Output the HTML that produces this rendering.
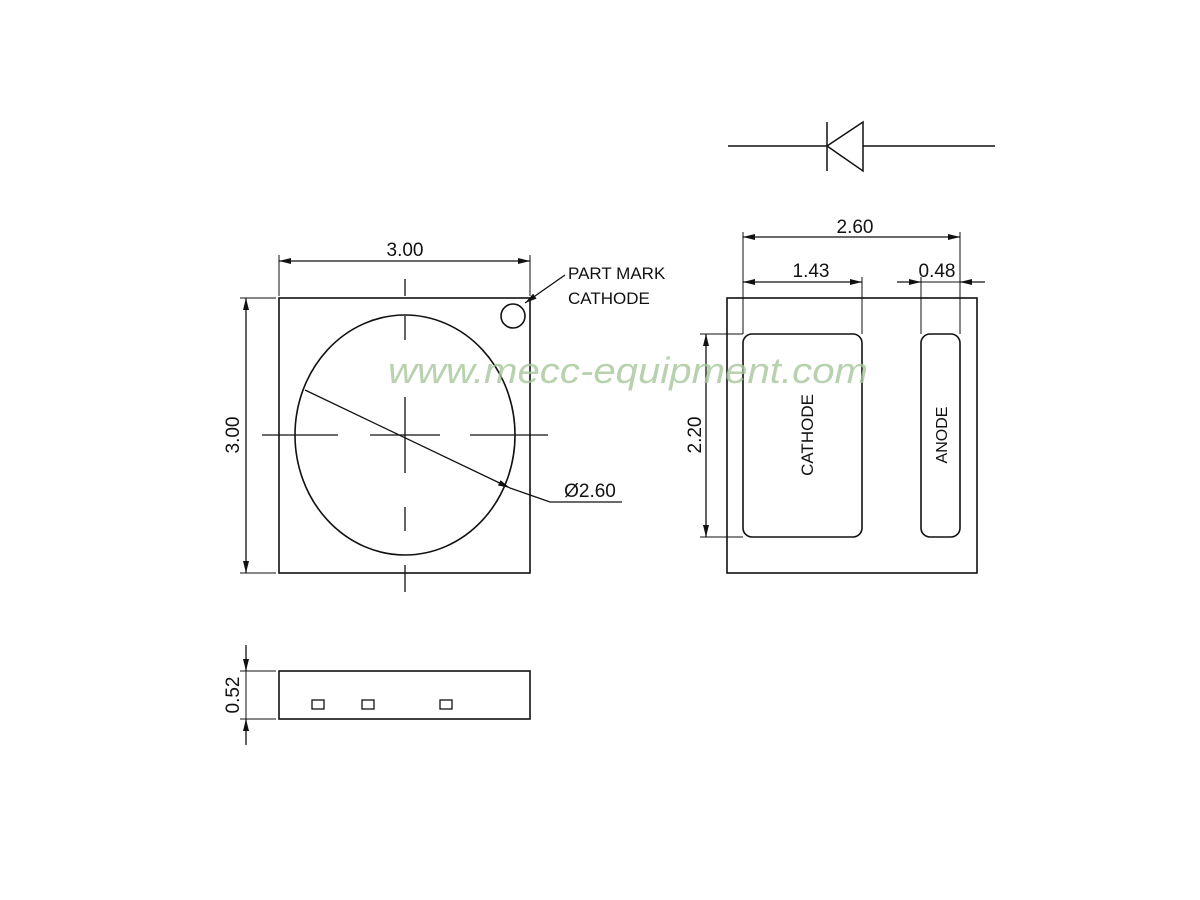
<!DOCTYPE html>
<html><head><style>html,body{margin:0;padding:0;background:#fff}svg{display:block}</style></head><body>
<svg width="1200" height="900" viewBox="0 0 1200 900" xmlns="http://www.w3.org/2000/svg" font-family="Liberation Sans, sans-serif">
<defs>
<marker id="a" viewBox="0 0 12 6" refX="12" refY="3" markerWidth="12" markerHeight="6" markerUnits="userSpaceOnUse" orient="auto-start-reverse"><path d="M0,0 L12,3 L0,6 z" fill="#111"/></marker>
</defs>
<g stroke="#111" stroke-width="1.6" fill="none">
<!-- top view -->
<rect x="279" y="298" width="251" height="275"/>
<ellipse cx="405" cy="435" rx="110" ry="120"/>
<circle cx="513" cy="316" r="12"/>
<g stroke-width="1.3">
<line x1="405" y1="279" x2="405" y2="296"/>
<line x1="405" y1="316" x2="405" y2="340"/>
<line x1="405" y1="397" x2="405" y2="473"/>
<line x1="405" y1="507" x2="405" y2="531"/>
<line x1="405" y1="565" x2="405" y2="592"/>
<line x1="262" y1="435" x2="338" y2="435"/>
<line x1="370" y1="435" x2="440" y2="435"/>
<line x1="470" y1="435" x2="548" y2="435"/>
</g>
<line x1="305" y1="390" x2="510" y2="488" stroke-width="1.3" marker-end="url(#a)"/>
<polyline points="510,488 550,502 622,502" stroke-width="1.3"/>
<line x1="565" y1="275" x2="525" y2="303" stroke-width="1.3" marker-end="url(#a)"/>
<!-- dims top view -->
<line x1="279" y1="296" x2="279" y2="255" stroke-width="1"/>
<line x1="530" y1="296" x2="530" y2="255" stroke-width="1"/>
<line x1="279" y1="261" x2="530" y2="261" stroke-width="1.3" marker-start="url(#a)" marker-end="url(#a)"/>
<line x1="240" y1="298" x2="276" y2="298" stroke-width="1"/>
<line x1="240" y1="573" x2="276" y2="573" stroke-width="1"/>
<line x1="246" y1="298" x2="246" y2="573" stroke-width="1.3" marker-start="url(#a)" marker-end="url(#a)"/>
<!-- side view -->
<rect x="279" y="671" width="251" height="48"/>
<rect x="312" y="700" width="12" height="9" stroke-width="1.3"/>
<rect x="362" y="700" width="12" height="9" stroke-width="1.3"/>
<rect x="440" y="700" width="12" height="9" stroke-width="1.3"/>
<line x1="240" y1="671" x2="276" y2="671" stroke-width="1"/>
<line x1="240" y1="719" x2="276" y2="719" stroke-width="1"/>
<line x1="246" y1="645" x2="246" y2="671" stroke-width="1.3" marker-end="url(#a)"/>
<line x1="246" y1="745" x2="246" y2="719" stroke-width="1.3" marker-end="url(#a)"/>
<line x1="246" y1="671" x2="246" y2="719" stroke-width="1"/>
<!-- bottom view -->
<rect x="727" y="298" width="250" height="275"/>
<rect x="743" y="334" width="119" height="203" rx="9"/>
<rect x="921" y="334" width="39" height="203" rx="9"/>
<line x1="743" y1="232" x2="743" y2="334" stroke-width="1"/>
<line x1="960" y1="232" x2="960" y2="334" stroke-width="1"/>
<line x1="862" y1="277" x2="862" y2="334" stroke-width="1"/>
<line x1="921" y1="277" x2="921" y2="334" stroke-width="1"/>
<line x1="743" y1="237" x2="960" y2="237" stroke-width="1.3" marker-start="url(#a)" marker-end="url(#a)"/>
<line x1="743" y1="282" x2="862" y2="282" stroke-width="1.3" marker-start="url(#a)" marker-end="url(#a)"/>
<line x1="897" y1="282" x2="921" y2="282" stroke-width="1.3" marker-end="url(#a)"/>
<line x1="985" y1="282" x2="960" y2="282" stroke-width="1.3" marker-end="url(#a)"/>
<line x1="921" y1="282" x2="960" y2="282" stroke-width="1"/>
<line x1="700" y1="334" x2="743" y2="334" stroke-width="1"/>
<line x1="700" y1="537" x2="743" y2="537" stroke-width="1"/>
<line x1="706" y1="334" x2="706" y2="537" stroke-width="1.3" marker-start="url(#a)" marker-end="url(#a)"/>
<!-- diode -->
<line x1="728" y1="146" x2="995" y2="146" stroke-width="1.5"/>
<line x1="827" y1="122" x2="827" y2="171" stroke-width="1.5"/>
<polygon points="827,146 863,122 863,171" fill="#fff" stroke-width="1.5"/>
</g>
<g fill="#111" font-size="19">
<text x="405" y="256" text-anchor="middle">3.00</text>
<text x="855" y="233" text-anchor="middle">2.60</text>
<text x="811" y="277" text-anchor="middle">1.43</text>
<text x="937" y="277" text-anchor="middle">0.48</text>
<text x="590" y="497" text-anchor="middle">Ø2.60</text>
<text transform="translate(239,435) rotate(-90)" text-anchor="middle">3.00</text>
<text transform="translate(701,435) rotate(-90)" text-anchor="middle">2.20</text>
<text transform="translate(239,695) rotate(-90)" text-anchor="middle">0.52</text>
<text x="568" y="279" font-size="17">PART MARK</text>
<text x="568" y="304" font-size="17">CATHODE</text>
<text transform="translate(813,435) rotate(-90)" text-anchor="middle" font-size="17">CATHODE</text>
<text transform="translate(947,435) rotate(-90)" text-anchor="middle" font-size="16">ANODE</text>
</g>
<text x="388" y="383" font-size="36" font-style="italic" fill="#a6c59a" fill-opacity="0.8" textLength="480" lengthAdjust="spacingAndGlyphs">www.mecc-equipment.com</text>
</svg>
</body></html>
